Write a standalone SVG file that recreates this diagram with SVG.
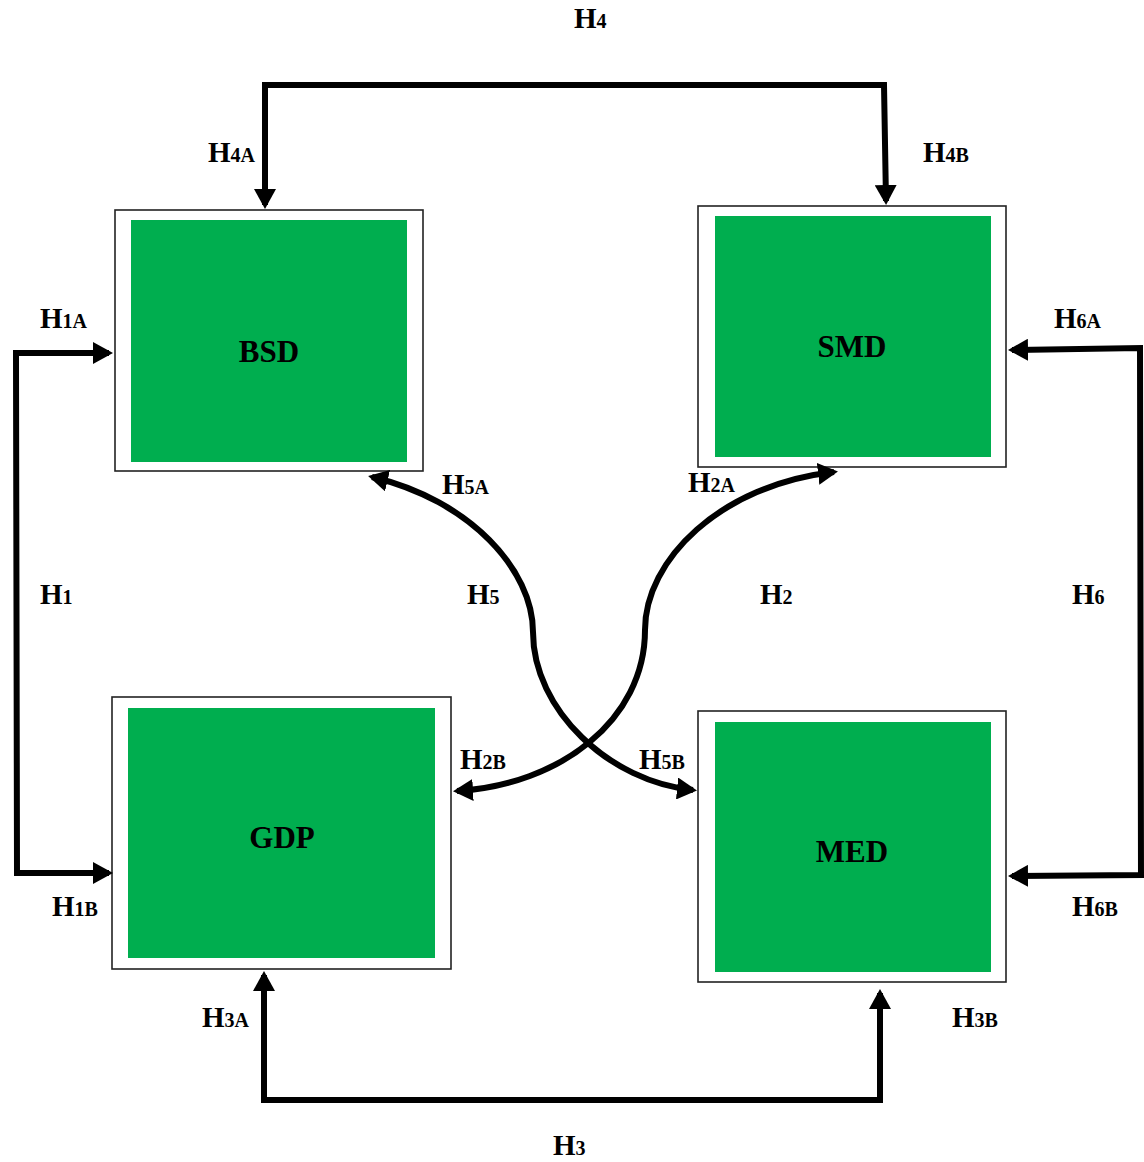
<svg xmlns="http://www.w3.org/2000/svg" width="1144" height="1162" viewBox="0 0 1144 1162">
<defs>
<style>
.frame{fill:#fff;stroke:#222;stroke-width:1.6}
.fill{fill:#00ae4f}
.name{font-family:"Liberation Serif","Times New Roman",serif;font-weight:bold;font-size:31px;fill:#000;text-anchor:middle}
.lbl{font-family:"Liberation Serif","Times New Roman",serif;font-weight:bold;font-size:29px;fill:#000}
.sub{font-size:20px}
.conn{fill:none;stroke:#000;stroke-width:6;stroke-linejoin:miter}
</style>
<marker id="ah" viewBox="0 0 20 22" markerWidth="20" markerHeight="22" refX="16" refY="11" orient="auto-start-reverse" markerUnits="userSpaceOnUse">
<path d="M0,0 L20,11 L0,22 z" fill="#000"/>
</marker>
</defs>

<g id="BSD">
<rect class="frame" x="115" y="210" width="308" height="261"/>
<rect class="fill" x="131" y="220" width="276" height="242"/>
<text class="name" x="269" y="362">BSD</text>
</g>
<g id="SMD">
<rect class="frame" x="698" y="206" width="308" height="261"/>
<rect class="fill" x="715" y="216" width="276" height="241"/>
<text class="name" x="852" y="357">SMD</text>
</g>
<g id="GDP">
<rect class="frame" x="112" y="697" width="339" height="272"/>
<rect class="fill" x="128" y="708" width="307" height="250"/>
<text class="name" x="282" y="848">GDP</text>
</g>
<g id="MED">
<rect class="frame" x="698" y="711" width="308" height="271"/>
<rect class="fill" x="715" y="722" width="276" height="250"/>
<text class="name" x="852" y="862">MED</text>
</g>

<g id="connectors">
<path class="conn" d="M265,205 L265,85 L884,85 L886,201" marker-start="url(#ah)" marker-end="url(#ah)"/>
<path class="conn" d="M109,353 L16,353 L17,873 L109,873" marker-start="url(#ah)" marker-end="url(#ah)"/>
<path class="conn" d="M264,975 L264,1100 L880,1100 L880,993" marker-start="url(#ah)" marker-end="url(#ah)"/>
<path class="conn" d="M1012,350 L1140,348 L1141,875 L1012,876" marker-start="url(#ah)" marker-end="url(#ah)"/>
<path class="conn" d="M372,477 C470,500 533,570 533,632 C533,710 610,782 693,790" marker-start="url(#ah)" marker-end="url(#ah)"/>
<path class="conn" d="M834,472 C720,485 645,560 645,630 C645,720 560,785 457,791" marker-start="url(#ah)" marker-end="url(#ah)"/>
</g>

<g id="labels">
<text class="lbl" x="574" y="28">H<tspan class="sub">4</tspan></text>
<text class="lbl" x="208" y="162">H<tspan class="sub">4A</tspan></text>
<text class="lbl" x="923" y="162">H<tspan class="sub">4B</tspan></text>
<text class="lbl" x="40" y="328">H<tspan class="sub">1A</tspan></text>
<text class="lbl" x="40" y="604">H<tspan class="sub">1</tspan></text>
<text class="lbl" x="52" y="916">H<tspan class="sub">1B</tspan></text>
<text class="lbl" x="442" y="494">H<tspan class="sub">5A</tspan></text>
<text class="lbl" x="467" y="604">H<tspan class="sub">5</tspan></text>
<text class="lbl" x="688" y="492">H<tspan class="sub">2A</tspan></text>
<text class="lbl" x="760" y="604">H<tspan class="sub">2</tspan></text>
<text class="lbl" x="1054" y="328">H<tspan class="sub">6A</tspan></text>
<text class="lbl" x="1072" y="604">H<tspan class="sub">6</tspan></text>
<text class="lbl" x="1072" y="916">H<tspan class="sub">6B</tspan></text>
<text class="lbl" x="460" y="769">H<tspan class="sub">2B</tspan></text>
<text class="lbl" x="639" y="769">H<tspan class="sub">5B</tspan></text>
<text class="lbl" x="202" y="1027">H<tspan class="sub">3A</tspan></text>
<text class="lbl" x="952" y="1027">H<tspan class="sub">3B</tspan></text>
<text class="lbl" x="553" y="1155">H<tspan class="sub">3</tspan></text>
</g>
</svg>
